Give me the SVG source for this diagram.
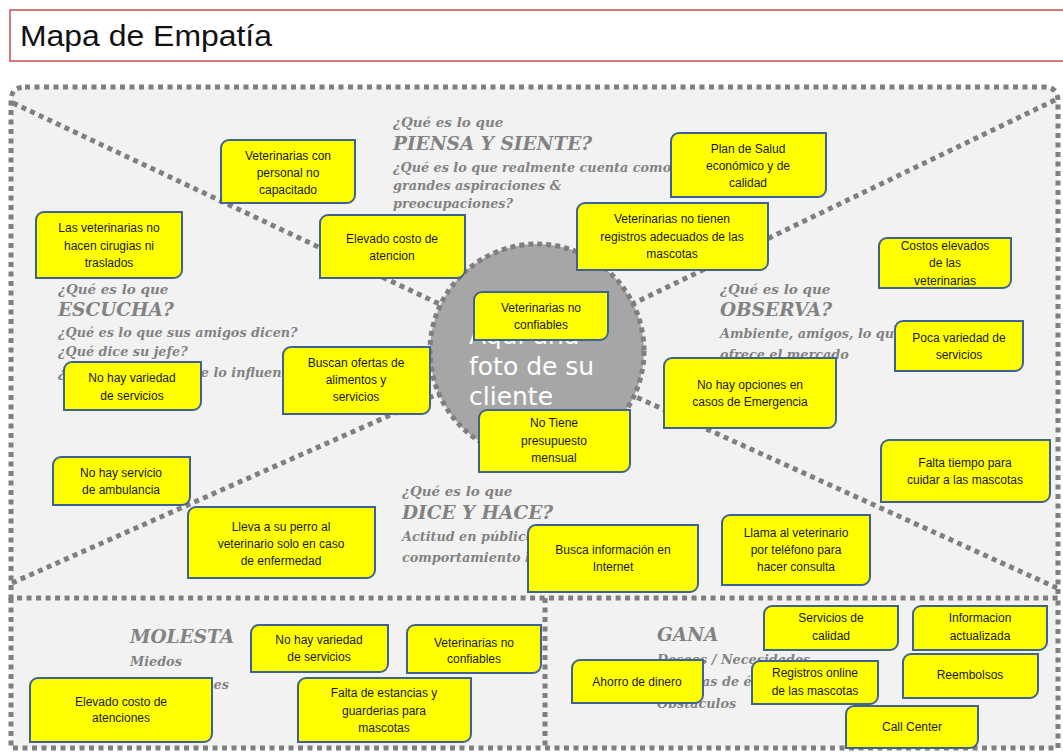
<svg xmlns="http://www.w3.org/2000/svg" width="1063" height="754" viewBox="0 0 1063 754">
  <style>
    .dots { fill: none; stroke: #7f7f7f; stroke-width: 5; stroke-dasharray: 5 4.5; }
    .panel { fill: #f2f2f2; }
    .note path { fill: #ffff00; stroke: #3f6390; stroke-width: 2; }
    .note text { font-family: "Liberation Sans", Arial, sans-serif; font-size: 12px; fill: #1a1a1a; text-anchor: middle; }
    .lbl { font-family: "DejaVu Serif", "Liberation Serif", serif; font-weight: bold; font-style: italic; fill: #828282; }
    .q { font-size: 13.5px; }
    .h { font-size: 18.5px; }
    .b { font-size: 12.8px; }
  </style>

  <rect width="1063" height="754" fill="#ffffff"/>

  <!-- title bar -->
  <g id="title">
    <rect x="10" y="10" width="1062" height="51" fill="#ffffff" stroke="#c9595b" stroke-width="1.6"/>
    <text x="20" y="46" font-family="Liberation Sans, Arial, sans-serif" font-size="29" fill="#111111" textLength="252" lengthAdjust="spacingAndGlyphs">Mapa de Empatía</text>
  </g>

  <!-- panels -->
  <g id="panels">
    <path class="panel" d="M25,87 H1044 Q1058,87 1058,101 V598 H11 V101 Q11,87 25,87 Z"/>
    <rect class="panel" x="11" y="598" width="534" height="150"/>
    <rect class="panel" x="545" y="598" width="513" height="150"/>
    <path class="dots" d="M25,87 H1044 Q1058,87 1058,101 V598 H11 V101 Q11,87 25,87 Z"/>
    <path class="dots" d="M11,598 V748 H1058 V598"/>
    <path class="dots" d="M545,598 V748"/>
  </g>

  <!-- dividers radiating from the centre -->
  <g id="connectors">
    <line class="dots" x1="13" y1="103" x2="537" y2="350"/>
    <line class="dots" x1="1055" y1="100" x2="537" y2="350"/>
    <line class="dots" x1="12" y1="583" x2="537" y2="350"/>
    <line class="dots" x1="1057" y1="588" x2="537" y2="352"/>
  </g>

  <!-- centre portrait circle -->
  <g id="centro">
    <circle cx="537" cy="351" r="107" fill="#a6a6a6" stroke="#7f7f7f" stroke-width="5" stroke-dasharray="5 4"/>
    <g font-family="DejaVu Sans, Liberation Sans, sans-serif" font-size="25" fill="#ffffff">
      <text x="469" y="344">Aquí una</text>
      <text x="469" y="375">foto de su</text>
      <text x="469" y="405">cliente</text>
    </g>
  </g>

  <!-- quadrant headings -->
  <g id="piensa" class="lbl">
    <text class="q" x="393" y="127">¿Qué es lo que</text>
    <text class="h" x="393" y="150">PIENSA Y SIENTE?</text>
    <text class="b" x="393" y="172">¿Qué es lo que realmente cuenta como</text>
    <text class="b" x="393" y="190">grandes aspiraciones &amp;</text>
    <text class="b" x="393" y="208">preocupaciones?</text>
  </g>
  <g id="escucha" class="lbl">
    <text class="q" x="58" y="294">¿Qué es lo que</text>
    <text class="h" x="58" y="316">ESCUCHA?</text>
    <text class="b" x="58" y="337">¿Qué es lo que sus amigos dicen?</text>
    <text class="b" x="58" y="356">¿Qué dice su jefe?</text>
    <text class="b" x="58" y="377">¿Quiénes son los que lo influencian?</text>
  </g>
  <g id="observa" class="lbl">
    <text class="q" x="720" y="294">¿Qué es lo que</text>
    <text class="h" x="720" y="316">OBSERVA?</text>
    <text class="b" x="720" y="338">Ambiente, amigos, lo que</text>
    <text class="b" x="720" y="359">ofrece el mercado</text>
  </g>
  <g id="dice" class="lbl">
    <text class="q" x="402" y="496">¿Qué es lo que</text>
    <text class="h" x="402" y="519">DICE Y HACE?</text>
    <text class="b" x="402" y="541">Actitud en público, apariencia</text>
    <text class="b" x="402" y="562">comportamiento hacia otros</text>
  </g>
  <g id="molesta" class="lbl">
    <text class="h" x="130" y="643">MOLESTA</text>
    <text class="b" x="130" y="666">Miedos</text>
    <text class="b" x="130" y="689">Frustraciones</text>
    <text class="b" x="130" y="709">Obstáculos</text>
  </g>
  <g id="gana" class="lbl">
    <text class="h" x="657" y="641">GANA</text>
    <text class="b" x="657" y="664">Deseos / Necesidades</text>
    <text class="b" x="657" y="686">Medidas de éxito</text>
    <text class="b" x="657" y="708">Obstáculos</text>
  </g>

  <!-- sticky notes -->
  <g id="n1" class="note"><path d="M229,140 H355 V195 A8 8 0 0 1 347,203 H221 V148 A8 8 0 0 1 229,140 Z"/>
    <text x="288" y="160">Veterinarias con</text><text x="288" y="177">personal no</text><text x="288" y="194">capacitado</text></g>
  <g id="n2" class="note"><path d="M44,212 H182 V270 A8 8 0 0 1 174,278 H36 V220 A8 8 0 0 1 44,212 Z"/>
    <text x="109" y="232">Las veterinarias no</text><text x="109" y="250">hacen cirugias ni</text><text x="109" y="267">traslados</text></g>
  <g id="n3" class="note"><path d="M328,215 H465 V270 A8 8 0 0 1 457,278 H320 V223 A8 8 0 0 1 328,215 Z"/>
    <text x="392" y="243">Elevado costo de</text><text x="392" y="260">atencion</text></g>
  <g id="n4" class="note"><path d="M679,133 H826 V189 A8 8 0 0 1 818,197 H671 V141 A8 8 0 0 1 679,133 Z"/>
    <text x="748" y="153">Plan de Salud</text><text x="748" y="170">económico y de</text><text x="748" y="187">calidad</text></g>
  <g id="n5" class="note"><path d="M585,203 H768 V262 A8 8 0 0 1 760,270 H577 V211 A8 8 0 0 1 585,203 Z"/>
    <text x="672" y="223">Veterinarias  no tienen</text><text x="672" y="241">registros adecuados de las</text><text x="672" y="258">mascotas</text></g>
  <g id="n6" class="note"><path d="M887,238 H1011 V280 A8 8 0 0 1 1003,288 H879 V246 A8 8 0 0 1 887,238 Z"/>
    <text x="945" y="250">Costos elevados</text><text x="945" y="267">de las</text><text x="945" y="285">veterinarias</text></g>
  <g id="n7" class="note"><path d="M482,292 H608 V332 A8 8 0 0 1 600,340 H474 V300 A8 8 0 0 1 482,292 Z"/>
    <text x="541" y="312">Veterinarias no</text><text x="541" y="329">confiables</text></g>
  <g id="n8" class="note"><path d="M72,362 H201 V402 A8 8 0 0 1 193,410 H64 V370 A8 8 0 0 1 72,362 Z"/>
    <text x="132" y="382">No hay variedad</text><text x="132" y="400">de servicios</text></g>
  <g id="n9" class="note"><path d="M291,347 H430 V406 A8 8 0 0 1 422,414 H283 V355 A8 8 0 0 1 291,347 Z"/>
    <text x="356" y="367">Buscan ofertas de</text><text x="356" y="384">alimentos y</text><text x="356" y="401">servicios</text></g>
  <g id="n10" class="note"><path d="M672,358 H836 V420 A8 8 0 0 1 828,428 H664 V366 A8 8 0 0 1 672,358 Z"/>
    <text x="750" y="389">No hay opciones en</text><text x="750" y="406">casos de Emergencia</text></g>
  <g id="n11" class="note"><path d="M903,321 H1023 V363 A8 8 0 0 1 1015,371 H895 V329 A8 8 0 0 1 903,321 Z"/>
    <text x="959" y="342">Poca variedad de</text><text x="959" y="359">servicios</text></g>
  <g id="n12" class="note"><path d="M487,410 H630 V464 A8 8 0 0 1 622,472 H479 V418 A8 8 0 0 1 487,410 Z"/>
    <text x="554" y="427">No Tiene</text><text x="554" y="445">presupuesto</text><text x="554" y="462">mensual</text></g>
  <g id="n13" class="note"><path d="M889,440 H1050 V494 A8 8 0 0 1 1042,502 H881 V448 A8 8 0 0 1 889,440 Z"/>
    <text x="965" y="467">Falta tiempo para</text><text x="965" y="484">cuidar a las mascotas</text></g>
  <g id="n14" class="note"><path d="M61,457 H190 V497 A8 8 0 0 1 182,505 H53 V465 A8 8 0 0 1 61,457 Z"/>
    <text x="121" y="477">No hay servicio</text><text x="121" y="494">de ambulancia</text></g>
  <g id="n15" class="note"><path d="M196,507 H375 V570 A8 8 0 0 1 367,578 H188 V515 A8 8 0 0 1 196,507 Z"/>
    <text x="281" y="531">Lleva a su perro al</text><text x="281" y="548">veterinario solo en caso</text><text x="281" y="565">de enfermedad</text></g>
  <g id="n16" class="note"><path d="M536,525 H698 V584 A8 8 0 0 1 690,592 H528 V533 A8 8 0 0 1 536,525 Z"/>
    <text x="613" y="554">Busca información en</text><text x="613" y="571">Internet</text></g>
  <g id="n17" class="note"><path d="M730,515 H870 V577 A8 8 0 0 1 862,585 H722 V523 A8 8 0 0 1 730,515 Z"/>
    <text x="796" y="537">Llama al veterinario</text><text x="796" y="554">por teléfono para</text><text x="796" y="571">hacer consulta</text></g>
  <g id="n18" class="note"><path d="M259,625 H388 V664 A8 8 0 0 1 380,672 H251 V633 A8 8 0 0 1 259,625 Z"/>
    <text x="319" y="644">No hay variedad</text><text x="319" y="661">de servicios</text></g>
  <g id="n19" class="note"><path d="M415,625 H541 V665 A8 8 0 0 1 533,673 H407 V633 A8 8 0 0 1 415,625 Z"/>
    <text x="474" y="647">Veterinarias no</text><text x="474" y="663">confiables</text></g>
  <g id="n20" class="note"><path d="M38,678 H212 V734 A8 8 0 0 1 204,742 H30 V686 A8 8 0 0 1 38,678 Z"/>
    <text x="121" y="706">Elevado costo de</text><text x="121" y="722">atenciones</text></g>
  <g id="n21" class="note"><path d="M306,678 H471 V734 A8 8 0 0 1 463,742 H298 V686 A8 8 0 0 1 306,678 Z"/>
    <text x="384" y="697">Falta de estancias y</text><text x="384" y="715">guarderias para</text><text x="384" y="732">mascotas</text></g>
  <g id="n22" class="note"><path d="M580,660 H703 V695 A8 8 0 0 1 695,703 H572 V668 A8 8 0 0 1 580,660 Z"/>
    <text x="637" y="686">Ahorro de dinero</text></g>
  <g id="n23" class="note"><path d="M772,606 H898 V642 A8 8 0 0 1 890,650 H764 V614 A8 8 0 0 1 772,606 Z"/>
    <text x="831" y="622">Servicios de</text><text x="831" y="640">calidad</text></g>
  <g id="n24" class="note"><path d="M921,606 H1047 V642 A8 8 0 0 1 1039,650 H913 V614 A8 8 0 0 1 921,606 Z"/>
    <text x="980" y="622">Informacion</text><text x="980" y="640">actualizada</text></g>
  <g id="n25" class="note"><path d="M760,661 H878 V696 A8 8 0 0 1 870,704 H752 V669 A8 8 0 0 1 760,661 Z"/>
    <text x="815" y="677">Registros online</text><text x="815" y="695">de las mascotas</text></g>
  <g id="n26" class="note"><path d="M911,654 H1038 V690 A8 8 0 0 1 1030,698 H903 V662 A8 8 0 0 1 911,654 Z"/>
    <text x="970" y="679">Reembolsos</text></g>
  <g id="n27" class="note"><path d="M854,706 H978 V740 A8 8 0 0 1 970,748 H846 V714 A8 8 0 0 1 854,706 Z"/>
    <text x="912" y="731">Call Center</text></g>
</svg>
